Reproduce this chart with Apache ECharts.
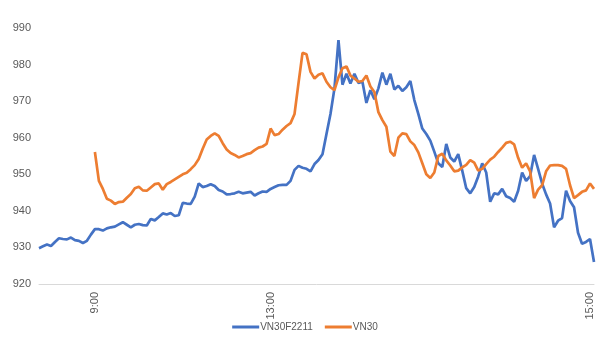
<!DOCTYPE html>
<html>
<head>
<meta charset="utf-8">
<script src="https://cdn.jsdelivr.net/npm/echarts@6/dist/echarts.min.js"></script>
<style>
  html, body { margin: 0; padding: 0; background: #fff; }
  #chart { width: 610px; height: 346px; }
</style>
</head>
<body>
<div id="chart"></div>
<script>
// Intraday prints, one sample per slot across the trading day
const futures = [
  929.8, 930.3, 930.8, 930.4, 931.5, 932.5, 932.3, 932.2, 932.7, 932.0,
  931.8, 931.2, 931.8, 933.5, 935.0, 935.0, 934.6, 935.2, 935.5, 935.7,
  936.3, 936.9, 936.2, 935.5, 936.2, 936.4, 936.1, 936.0, 937.8, 937.4,
  938.3, 939.3, 939.0, 939.4, 938.6, 938.8, 942.2, 942.0, 941.9, 943.9,
  947.5, 946.5, 946.8, 947.3, 946.8, 945.7, 945.3, 944.5, 944.6, 944.8,
  945.2, 944.8, 945.0, 945.2, 944.2, 944.8, 945.3, 945.2, 946.0, 946.5,
  947.0, 947.1, 947.1, 948.2, 951.2, 952.3, 951.8, 951.5, 950.8, 952.8,
  953.9, 955.5, 961.0, 966.5, 973.5, 986.7, 974.5, 977.5, 974.8, 977.5,
  975.0, 975.3, 969.5, 973.0, 970.5, 973.5, 977.8, 974.5, 977.5, 973.2,
  974.2, 972.8, 973.8, 975.5, 970.3, 966.5, 962.5, 961.0, 959.2, 956.2,
  953.0, 952.0, 958.3, 954.6, 953.5, 955.5, 951.0, 946.2, 944.8, 946.5,
  949.4, 953.0, 950.5, 942.5, 944.8, 944.5, 946.0, 944.0, 943.5, 942.5,
  945.5, 950.5, 948.2, 949.5, 955.3, 951.5, 947.5, 944.5, 942.0, 935.5,
  937.3, 938.0, 945.5, 942.7, 941.0, 934.0, 931.0, 931.5, 932.3, 926.0
];

const index = [
  null, null, null, null, null, null, null, null, null, null,
  null, null, null, null, 956.1, 948.2, 946.0, 943.3, 942.8, 941.9,
  942.4, 942.5, 943.6, 944.6, 946.2, 946.6, 945.6, 945.5, 946.4, 947.3,
  947.5, 945.8, 947.3, 947.9, 948.6, 949.3, 950.0, 950.4, 951.4, 952.5,
  954.2, 957.0, 959.5, 960.5, 961.2, 960.5, 958.5, 956.8, 955.8, 955.3,
  954.6, 955.0, 955.5, 955.8, 956.6, 957.3, 957.6, 958.3, 962.5, 960.7,
  961.0, 962.2, 963.2, 964.0, 966.5, 975.0, 983.2, 982.8, 978.0, 976.2,
  977.2, 977.6, 975.3, 973.8, 973.0, 976.5, 979.0, 979.5, 977.0, 976.2,
  975.3, 975.5, 977.0, 974.0, 972.5, 967.0, 964.8, 963.0, 956.2, 955.0,
  960.0, 961.2, 961.0, 959.0, 958.0, 956.0, 953.0, 950.0, 949.0, 950.5,
  955.0, 955.6, 953.8, 952.4, 950.8, 951.0, 951.9, 952.6, 953.9, 953.2,
  951.0, 951.5, 952.8, 954.0, 954.8, 956.1, 957.3, 958.6, 958.9, 958.2,
  954.5, 951.8, 953.0, 950.8, 943.5, 945.8, 947.0, 950.8, 952.4, 952.5,
  952.5, 952.3, 951.5, 947.0, 943.5, 944.3, 945.2, 945.6, 947.5, 946.0
];

// Session time labels shown on the category axis (slot -> label)
const timeLabels = { 14: '9:00', 58: '13:00', 138: '15:00' };

const seriesNames = ['VN30F2211', 'VN30'];
const colors = ['#4472C4', '#ED7D31'];

const slots = futures.map((_, i) => String(i));

const chart = echarts.init(document.getElementById('chart'), null, { renderer: 'canvas' });

chart.setOption({
  animation: false,
  color: colors,
  grid: { left: 39, right: 16, top: 28, bottom: 62, outerBoundsMode: 'none' },
  legend: {
    bottom: 9,
    left: 'center',
    itemWidth: 27,
    itemHeight: 3,
    itemGap: 12,
    icon: 'rect',
    textStyle: { color: '#595959', fontSize: 10, fontFamily: 'Liberation Sans, Arial, sans-serif', padding: [0, 0, 0, -4] },
    data: seriesNames
  },
  xAxis: {
    type: 'category',
    data: slots,
    boundaryGap: false,
    axisLine: { lineStyle: { color: '#d9d9d9', width: 1 } },
    axisTick: { show: false },
    axisLabel: {
      interval: 0,
      rotate: 90,
      margin: 8,
      color: '#595959',
      fontSize: 11,
      fontFamily: 'Liberation Sans, Arial, sans-serif',
      formatter: (v, i) => timeLabels[i] || ''
    },
    splitLine: { show: false }
  },
  yAxis: {
    type: 'value',
    min: 920,
    max: 990,
    interval: 10,
    axisLine: { show: false },
    axisTick: { show: false },
    splitLine: { show: false },
    axisLabel: {
      color: '#595959',
      fontSize: 11,
      margin: 8,
      fontFamily: 'Liberation Sans, Arial, sans-serif'
    }
  },
  series: [
    {
      name: seriesNames[0],
      type: 'line',
      data: futures,
      symbol: 'none',
      lineStyle: { width: 2.7, color: colors[0] },
      z: 2
    },
    {
      name: seriesNames[1],
      type: 'line',
      data: index,
      symbol: 'none',
      connectNulls: false,
      lineStyle: { width: 2.7, color: colors[1] },
      z: 3
    }
  ]
});
</script>
</body>
</html>
